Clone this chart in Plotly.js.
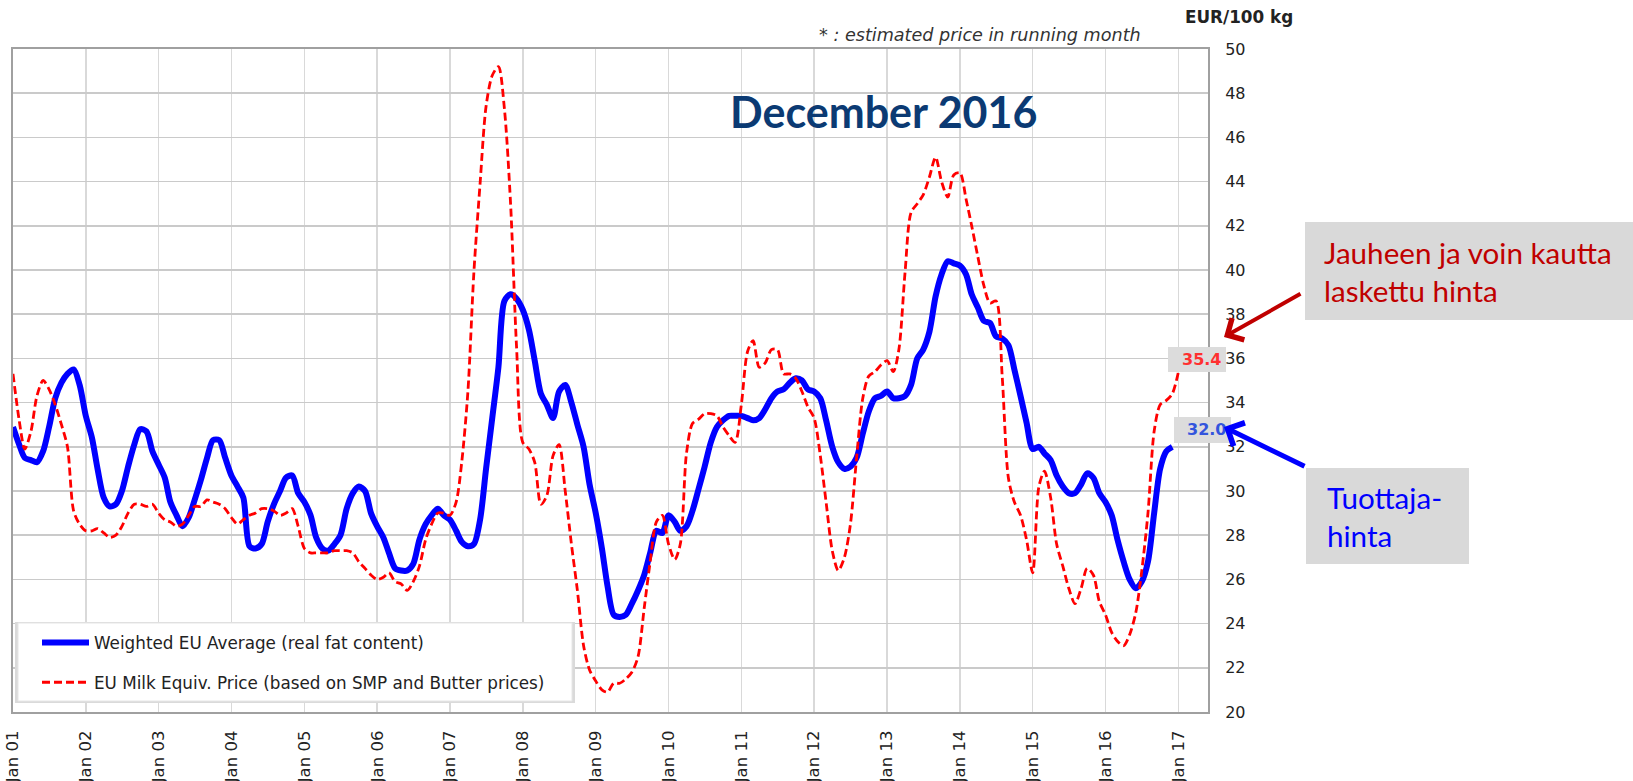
<!DOCTYPE html>
<html>
<head>
<meta charset="utf-8">
<script src="https://cdn.plot.ly/plotly-3.0.1.min.js"></script>
<style>
html,body{margin:0;padding:0;background:#ffffff;}
#chart{width:1633px;height:781px;}
</style>
</head>
<body>
<div id="chart"></div>
<script>
// ---------- DATA (monthly, EUR/100 kg) ----------
const firstYear = 2001;   // series start: Jan 2001
const weightedEU = [
  32.9, 32.1, 31.5, 31.4, 31.3, 31.8, 32.9, 34.2, 34.9, 35.3, 35.5, 34.8,
  33.4, 32.4, 31.0, 29.7, 29.3, 29.4, 30.0, 31.1, 32.1, 32.8, 32.7, 31.8,
  31.2, 30.6, 29.5, 28.9, 28.4, 28.8, 29.6, 30.5, 31.5, 32.3, 32.3, 31.5,
  30.7, 30.2, 29.7, 27.5, 27.4, 27.6, 28.6, 29.4, 30.0, 30.6, 30.7, 29.9,
  29.5, 28.9, 27.9, 27.4, 27.3, 27.6, 28.0, 29.2, 29.9, 30.2, 30.0, 29.0,
  28.4, 27.9, 27.2, 26.5, 26.4, 26.4, 26.7, 27.8, 28.5, 28.9, 29.2, 28.9,
  28.7, 28.2, 27.7, 27.5, 27.6, 28.7, 31.0, 33.3, 35.6, 38.6, 38.9, 38.7,
  38.2, 37.3, 35.9, 34.4, 33.9, 33.3, 34.5, 34.8, 34.0, 33.0, 32.0, 30.3,
  29.0, 27.4, 25.7, 24.4, 24.3, 24.4, 24.9, 25.5, 26.2, 27.2, 28.2, 28.1,
  28.9, 28.6, 28.2, 28.4, 29.1, 30.1, 31.1, 32.2, 32.9, 33.2, 33.4, 33.4,
  33.4, 33.3, 33.2, 33.3, 33.7, 34.2, 34.5, 34.6, 34.9, 35.1, 35.0, 34.6,
  34.5, 34.2, 33.2, 32.0, 31.3, 31.0, 31.1, 31.5, 32.6, 33.6, 34.2, 34.3,
  34.5, 34.2, 34.2, 34.3, 34.8, 36.0, 36.4, 37.2, 38.8, 39.8, 40.4, 40.3,
  40.2, 39.8, 38.9, 38.3, 37.7, 37.6, 37.0, 36.9, 36.6, 35.5, 34.3, 33.1,
  31.9, 32.0, 31.7, 31.4, 30.7, 30.2, 29.9, 29.9, 30.3, 30.8, 30.6, 29.9,
  29.5, 28.9, 27.8, 26.8, 26.0, 25.6, 25.9, 26.8, 29.0, 31.0, 31.8, 32.0
];
const milkEquiv = [
  35.3, 33.2, 31.9, 32.7, 34.3, 35.0, 34.6, 33.9, 33.0, 32.0, 29.1, 28.5,
  28.2, 28.2, 28.3, 28.1, 27.9, 28.0, 28.4, 29.0, 29.4, 29.4, 29.3, 29.4,
  29.0, 28.7, 28.6, 28.4, 28.5, 28.9, 29.3, 29.3, 29.6, 29.5, 29.4, 29.2,
  28.8, 28.5, 28.7, 28.9, 29.0, 29.2, 29.2, 29.1, 28.9, 29.0, 29.2, 28.4,
  27.4, 27.2, 27.2, 27.2, 27.2, 27.3, 27.3, 27.3, 27.2, 26.8, 26.5, 26.2,
  26.0, 26.1, 26.3, 25.9, 25.8, 25.5, 25.9, 26.6, 27.8, 28.5, 29.0, 29.0,
  28.9, 29.5, 31.3, 34.5, 39.9, 43.9, 47.4, 48.8, 49.2, 47.3, 43.0, 36.5,
  32.2, 31.9, 31.3, 29.4, 29.8, 31.6, 32.1, 30.0, 27.6, 25.5, 23.0, 21.9,
  21.4, 21.0, 20.9, 21.3, 21.3, 21.5, 21.8, 22.5, 24.7, 26.8, 28.6, 28.9,
  27.6, 26.9, 27.6, 31.7, 33.05, 33.25, 33.5, 33.5, 33.4, 32.9, 32.5, 32.2,
  33.9, 36.3, 36.8, 35.6, 35.8, 36.4, 36.4, 35.3, 35.3, 35.1, 34.5, 33.8,
  33.3, 31.6, 29.5, 27.3, 26.4, 27.0, 28.5, 31.5, 34.2, 35.2, 35.4, 35.7,
  35.9, 35.4, 36.4, 39.9, 42.6, 43.0, 43.4, 44.2, 45.1, 44.0, 43.3, 44.3,
  44.4, 43.2, 42.0, 40.6, 39.3, 38.5, 38.6, 35.2, 30.6, 29.5, 28.9, 27.8,
  26.3, 30.2, 30.9, 29.7, 27.6, 26.6, 25.6, 24.9, 25.6, 26.5, 26.2, 25.0,
  24.4, 23.6, 23.2, 23.0, 23.5, 24.5, 26.4, 29.0, 32.7, 33.9, 34.1, 34.4,
  35.4
];
const tickYears = [2001,2002,2003,2004,2005,2006,2007,2008,2009,2010,2011,2012,2013,2014,2015,2016,2017];
const tickLabels = ['Jan 01','Jan 02','Jan 03','Jan 04','Jan 05','Jan 06','Jan 07','Jan 08','Jan 09',
                    'Jan 10','Jan 11','Jan 12','Jan 13','Jan 14','Jan 15','Jan 16','Jan 17'];
const seriesNames = ['Weighted EU Average (real fat content)',
                     'EU Milk Equiv. Price (based on SMP and Butter prices)'];

// ---------- helpers ----------
function monthDate(i){
  const y = firstYear + Math.floor(i/12), m = (i % 12) + 1;
  return y + '-' + (m < 10 ? '0' + m : m) + '-01';
}
const datesBlue = weightedEU.map((_, i) => monthDate(i));
const datesRed  = milkEquiv.map((_, i) => monthDate(i));

// plot-area pixel frame (for placing decorations)
const L = 13, R = 1208, T = 49, B = 712;
const px = x => (x - L) / (R - L);
const py = y => (B - y) / (B - T);

const FONT = 'DejaVu Sans, Verdana, sans-serif';

const traces = [
  {
    x: datesBlue, y: weightedEU, type: 'scatter', mode: 'lines',
    name: seriesNames[0], legendgroup: 'g1',
    line: {color: '#0000ff', width: 6, shape: 'spline', smoothing: 0.8}
  },
  {
    x: datesRed, y: milkEquiv, type: 'scatter', mode: 'lines',
    name: seriesNames[1], legendgroup: 'g2',
    line: {color: '#ff0000', width: 2.8, dash: '8px,4px', shape: 'spline', smoothing: 0.8}
  }
];

const lastRed = milkEquiv[milkEquiv.length - 1].toFixed(1);
const lastBlue = weightedEU[weightedEU.length - 1].toFixed(1);

function box(x0, y0, x1, y1, fill, line){
  return {type: 'rect', xref: 'paper', yref: 'paper', layer: 'above',
          x0: px(x0), x1: px(x1), y0: py(y1), y1: py(y0),
          fillcolor: fill, line: line || {width: 0}};
}

const layout = {
  width: 1633, height: 781,
  margin: {l: L, r: 1633 - R, t: T, b: 781 - B, pad: 0},
  paper_bgcolor: '#ffffff', plot_bgcolor: '#ffffff',
  font: {family: FONT, size: 16, color: '#222222'},
  showlegend: true,
  hovermode: false,
  xaxis: {
    type: 'date',
    range: ['2001-01-01', '2017-05-29'],
    tickvals: tickYears.map(y => y + '-01-01'),
    ticktext: tickLabels,
    tickangle: -90,
    tickfont: {family: FONT, size: 16.5, color: '#222222'},
    ticks: '', ticklabelstandoff: 10,
    showgrid: true, gridcolor: '#d9d9d9', gridwidth: 1.5,
    showline: true, mirror: true, linecolor: '#a0a0a0', linewidth: 2,
    zeroline: false
  },
  yaxis: {
    range: [20, 50], tick0: 20, dtick: 2,
    side: 'right',
    tickfont: {family: FONT, size: 16, color: '#222222'},
    ticks: '', ticklabelstandoff: 12,
    showgrid: true, gridcolor: '#cacaca', gridwidth: 1.5,
    showline: true, mirror: true, linecolor: '#a0a0a0', linewidth: 2,
    zeroline: false
  },
  legend: {
    x: px(37), y: py(625), xanchor: 'left', yanchor: 'top',
    bgcolor: 'rgba(0,0,0,0)', borderwidth: 0,
    font: {family: FONT, size: 16.8, color: '#222222'},
    tracegroupgap: 15, itemwidth: 47
  },
  shapes: [
    box(15, 622, 575, 703, '#dadada'),
    box(18, 623, 572, 701, '#ffffff', {color: '#e6e6e6', width: 1}),
    box(1168, 347, 1226, 372, '#dcdcdc'),
    box(1174, 417, 1231, 443, '#dcdcdc'),
    box(1305, 222, 1640, 320, '#d9d9d9'),
    box(1306, 468, 1469, 564, '#d9d9d9')
  ],
  annotations: [
    {xref: 'paper', yref: 'paper', x: px(883), y: py(111), xanchor: 'center', yanchor: 'middle',
     text: '<b>December 2016</b>', showarrow: false,
     font: {family: 'Lato, Open Sans, sans-serif', size: 43, color: '#0b3a73'}},
    {xref: 'paper', yref: 'paper', x: px(980), y: py(35), xanchor: 'center', yanchor: 'middle',
     text: '* : estimated price in running month', showarrow: false,
     font: {family: FONT, size: 17.6, color: '#333333', style: 'italic'}},
    {xref: 'paper', yref: 'paper', x: px(1239), y: py(17), xanchor: 'center', yanchor: 'middle',
     text: '<b>EUR/100 kg</b>', showarrow: false,
     font: {family: FONT, size: 16.8, color: '#222222'}},
    {xref: 'paper', yref: 'paper', x: px(1223), y: py(359.5), xanchor: 'right', yanchor: 'middle',
     text: '<b>' + lastRed + '</b>', showarrow: false,
     font: {family: FONT, size: 16, color: '#ff3030'}},
    {xref: 'paper', yref: 'paper', x: px(1228), y: py(430), xanchor: 'right', yanchor: 'middle',
     text: '<b>' + lastBlue + '</b>', showarrow: false,
     font: {family: FONT, size: 16, color: '#3355dd'}},
    {xref: 'paper', yref: 'paper', x: px(1322), y: py(271.5), xanchor: 'left', yanchor: 'middle', align: 'left',
     text: 'Jauheen ja voin kautta<br>laskettu hinta', showarrow: false,
     font: {family: 'Lato, Open Sans, sans-serif', size: 29.6, color: '#c00000'}},
    {xref: 'paper', yref: 'paper', x: px(1325), y: py(516), xanchor: 'left', yanchor: 'middle', align: 'left',
     text: 'Tuottaja-<br>hinta', showarrow: false,
     font: {family: 'Lato, Open Sans, sans-serif', size: 29.6, color: '#0000ff'}},
    {xref: 'paper', yref: 'paper', x: px(1224), y: py(337), text: '', showarrow: true,
     ax: 78, ay: -44, arrowcolor: '#c00000', arrowwidth: 4, arrowhead: 4, arrowsize: 1.2, standoff: 0},
    {xref: 'paper', yref: 'paper', x: px(1224), y: py(427), text: '', showarrow: true,
     ax: 82, ay: 40, arrowcolor: '#0000ff', arrowwidth: 5, arrowhead: 4, arrowsize: 1.0, standoff: 0}
  ]
};

Plotly.newPlot('chart', traces, layout, {staticPlot: true, displayModeBar: false});
</script>
</body>
</html>
